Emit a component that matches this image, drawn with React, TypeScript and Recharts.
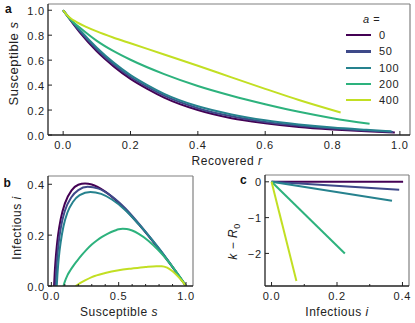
import { LineChart, Line, XAxis, YAxis, ReferenceLine, Legend, Label } from 'recharts';

const FONT = '"Liberation Sans", Arial, Helvetica, sans-serif';

const alphas = ['0', '50', '100', '200', '400'];
const colors = ['#440154', '#3e4989', '#26828e', '#2db27d', '#c2df23'];

// panel a: susceptible s against recovered r
const rA0 = [0, 0.05, 0.1, 0.15, 0.2, 0.25, 0.3, 0.4, 0.5, 0.6, 0.7, 0.8, 0.9, 0.985];
const sA0 = [1, 0.82, 0.67, 0.55, 0.45, 0.37, 0.3, 0.2, 0.135, 0.095, 0.065, 0.045, 0.03, 0.02];
const rA50 = [0, 0.05, 0.1, 0.15, 0.2, 0.25, 0.3, 0.4, 0.5, 0.6, 0.7, 0.8, 0.9, 0.98];
const sA50 = [1, 0.83, 0.685, 0.565, 0.465, 0.385, 0.315, 0.215, 0.15, 0.105, 0.075, 0.052, 0.036, 0.025];
const rA100 = [0, 0.05, 0.1, 0.15, 0.2, 0.25, 0.3, 0.4, 0.5, 0.6, 0.7, 0.8, 0.9, 0.975];
const sA100 = [1, 0.84, 0.7, 0.58, 0.48, 0.4, 0.33, 0.23, 0.165, 0.118, 0.085, 0.06, 0.042, 0.03];
const rA200 = [0, 0.01, 0.02, 0.05, 0.1, 0.15, 0.2, 0.3, 0.4, 0.5, 0.6, 0.7, 0.8, 0.91];
const sA200 = [1, 0.962, 0.93, 0.86, 0.755, 0.672, 0.603, 0.488, 0.393, 0.315, 0.247, 0.186, 0.135, 0.09];
const rA400 = [0, 0.01, 0.02, 0.04, 0.07, 0.1, 0.15, 0.2, 0.3, 0.4, 0.5, 0.6, 0.7, 0.824];
const sA400 = [1, 0.965, 0.94, 0.905, 0.865, 0.83, 0.78, 0.735, 0.645, 0.555, 0.462, 0.37, 0.28, 0.18];

// panel b: infectious i against susceptible s
const sB0 = [0.02, 0.025, 0.03, 0.04, 0.05, 0.07, 0.1, 0.15, 0.2, 0.25, 0.3, 0.4, 0.5, 0.6, 0.7, 0.8, 0.9, 0.95, 1.0];
const iB0 = [0, 0.053, 0.093, 0.155, 0.201, 0.265, 0.324, 0.376, 0.398, 0.403, 0.399, 0.371, 0.327, 0.272, 0.211, 0.144, 0.074, 0.037, 0];
const sB50 = [0.03, 0.035, 0.04, 0.05, 0.06, 0.08, 0.1, 0.15, 0.2, 0.27, 0.35, 0.45, 0.55, 0.65, 0.75, 0.85, 0.95, 1.0];
const iB50 = [0, 0.05, 0.09, 0.15, 0.195, 0.255, 0.295, 0.35, 0.377, 0.39, 0.383, 0.352, 0.305, 0.245, 0.18, 0.112, 0.038, 0];
const sB100 = [0.04, 0.045, 0.05, 0.06, 0.07, 0.09, 0.12, 0.16, 0.21, 0.29, 0.37, 0.45, 0.55, 0.65, 0.75, 0.85, 0.95, 1.0];
const iB100 = [0, 0.045, 0.08, 0.135, 0.175, 0.235, 0.29, 0.33, 0.357, 0.37, 0.362, 0.34, 0.298, 0.242, 0.18, 0.112, 0.038, 0];
const sB200 = [0.09, 0.1, 0.12, 0.14, 0.163, 0.19, 0.225, 0.26, 0.3, 0.34, 0.373, 0.42, 0.473, 0.5, 0.53, 0.56, 0.6, 0.646, 0.72, 0.794, 0.86, 0.918, 0.96, 1.0];
const iB200 = [0, 0.017, 0.043, 0.061, 0.079, 0.098, 0.121, 0.142, 0.163, 0.18, 0.192, 0.206, 0.218, 0.223, 0.225, 0.224, 0.218, 0.206, 0.178, 0.141, 0.102, 0.063, 0.032, 0];
const sB400 = [0.18, 0.2, 0.25, 0.3, 0.4, 0.5, 0.6, 0.7, 0.78, 0.82, 0.86, 0.9, 0.94, 0.97, 1.0];
const iB400 = [0, 0.007, 0.022, 0.035, 0.051, 0.062, 0.069, 0.075, 0.078, 0.078, 0.072, 0.058, 0.038, 0.02, 0];

// panel c: k - R0 against infectious i
const iC0 = [0, 0.402];
const kC0 = [0, 0];
const iC50 = [0, 0.39];
const kC50 = [0, -0.22];
const iC100 = [0, 0.368];
const kC100 = [0, -0.53];
const iC200 = [0, 0.224];
const kC200 = [0, -2.0];
const iC400 = [0, 0.076];
const kC400 = [0, -2.77];

const zip = (xs: number[], ys: number[]) => xs.map((x, i) => ({ x, y: ys[i] }));

const panelA = [zip(rA0, sA0), zip(rA50, sA50), zip(rA100, sA100), zip(rA200, sA200), zip(rA400, sA400)];
const panelB = [zip(sB0, iB0), zip(sB50, iB50), zip(sB100, iB100), zip(sB200, iB200), zip(sB400, iB400)];
const panelC = [zip(iC0, kC0), zip(iC50, kC50), zip(iC100, kC100), zip(iC200, kC200), zip(iC400, kC400)];

const tickText = { fontFamily: FONT, fontSize: 11, letterSpacing: 0.8, fill: '#222' };
const labelText = { fontFamily: FONT, fontSize: 12, letterSpacing: 0.5, fill: '#222' };

const isIn = (list: number[], v: number) => list.some((m) => Math.abs(m - v) < 1e-9);

const bottomTick = (major: number[], fmt: (v: number) => string) => (props: any) => {
  const { x, y, payload } = props;
  const big = isIn(major, payload.value);
  return (
    <g>
      <line x1={x} x2={x} y1={y} y2={y - (big ? 4 : 2)} stroke="#222" strokeWidth={1} />
      {big && (
        <text x={x} y={y + 14} textAnchor="middle" style={tickText}>
          {fmt(payload.value)}
        </text>
      )}
    </g>
  );
};

const leftTick = (fmt: (v: number) => string) => (props: any) => {
  const { x, y, payload } = props;
  return (
    <g>
      <line x1={x} x2={x + 4} y1={y} y2={y} stroke="#222" strokeWidth={1} />
      <text x={x - 3} y={y + 4.5} textAnchor="end" style={tickText}>
        {fmt(payload.value)}
      </text>
    </g>
  );
};

const fixed1 = (v: number) => v.toFixed(1);
const minusInt = (v: number) => (v < 0 ? '\u2212' + Math.abs(v) : String(v));

const LegendBox = () => (
  <div style={{ fontFamily: FONT, fontSize: 11, letterSpacing: 0.6, color: '#222' }}>
    <div style={{ height: 16, lineHeight: '16px', paddingLeft: 17 }}>
      <i>a</i> =
    </div>
    {alphas.map((a, i) => (
      <div key={a} style={{ display: 'flex', alignItems: 'center', height: 16.3 }}>
        <span style={{ width: 25, height: 2.2, background: colors[i], display: 'inline-block' }} />
        <span style={{ marginLeft: 8 }}>{a}</span>
      </div>
    ))}
  </div>
);

const axisLine = { stroke: '#222', strokeWidth: 1.3 };
const frame = '#808080';

const letter = (ch: string, left: number, top: number) => (
  <span
    style={{
      position: 'absolute',
      left,
      top,
      fontFamily: FONT,
      fontWeight: 'bold',
      fontSize: 12,
      lineHeight: '12px',
      color: '#111',
    }}
  >
    {ch}
  </span>
);

export default function App() {
  return (
    <div style={{ position: 'absolute', left: 0, top: 0, width: 415, height: 323, background: '#fff' }}>
      {/* a */}
      <div style={{ position: 'absolute', left: 0, top: 0 }}>
        <LineChart width={415} height={172} margin={{ top: 4, right: 5, left: 0, bottom: 0 }}>
          <XAxis
            type="number"
            dataKey="x"
            domain={[-0.045, 1.03]}
            allowDataOverflow
            ticks={[0, 0.2, 0.4, 0.6, 0.8, 1.0]}
            interval={0}
            tickLine={false}
            tickSize={0}
            tickMargin={0}
            height={37}
            axisLine={axisLine}
            tick={bottomTick([0, 0.2, 0.4, 0.6, 0.8, 1.0], fixed1)}
          >
            <Label
              content={() => (
                <text x={227} y={165} textAnchor="middle" style={labelText}>
                  Recovered <tspan fontStyle="italic">r</tspan>
                </text>
              )}
            />
          </XAxis>
          <YAxis
            type="number"
            dataKey="y"
            domain={[0, 1.05]}
            allowDataOverflow
            ticks={[0, 0.2, 0.4, 0.6, 0.8, 1.0]}
            interval={0}
            tickLine={false}
            tickSize={0}
            tickMargin={0}
            width={48}
            axisLine={axisLine}
            tick={leftTick(fixed1)}
          >
            <Label
              content={() => (
                <text x={18} y={63.5} textAnchor="middle" transform="rotate(-90 18 63.5)" style={{ ...labelText, fontSize: 13 }}>
                  Susceptible <tspan fontStyle="italic">s</tspan>
                </text>
              )}
            />
          </YAxis>
          <ReferenceLine y={1.05} stroke={frame} strokeWidth={1.2} />
          <ReferenceLine x={1.03} stroke={frame} strokeWidth={1.2} />
          {panelA.map((d, i) => (
            <Line
              key={alphas[i]}
              data={d}
              dataKey="y"
              type="monotone"
              stroke={colors[i]}
              strokeWidth={2}
              dot={false}
              isAnimationActive={false}
            />
          ))}
          <Legend
            layout="vertical"
            align="center"
            verticalAlign="middle"
            content={LegendBox}
            wrapperStyle={{ left: 346, top: 11, width: 62 }}
          />
        </LineChart>
      </div>

      {/* b */}
      <div style={{ position: 'absolute', left: 0, top: 170 }}>
        <LineChart width={200} height={153} margin={{ top: 6, right: 7, left: 0, bottom: 0 }}>
          <XAxis
            type="number"
            dataKey="x"
            domain={[-0.025, 1.052]}
            allowDataOverflow
            ticks={[0, 0.1, 0.2, 0.3, 0.4, 0.5, 0.6, 0.7, 0.8, 0.9, 1.0]}
            interval={0}
            tickLine={false}
            tickSize={0}
            tickMargin={0}
            height={37}
            axisLine={axisLine}
            tick={bottomTick([0, 0.5, 1.0], fixed1)}
          >
            <Label
              content={() => (
                <text x={119} y={145.5} textAnchor="middle" style={labelText}>
                  Susceptible <tspan fontStyle="italic">s</tspan>
                </text>
              )}
            />
          </XAxis>
          <YAxis
            type="number"
            dataKey="y"
            domain={[0, 0.4325]}
            allowDataOverflow
            ticks={[0, 0.2, 0.4]}
            interval={0}
            tickLine={false}
            tickSize={0}
            tickMargin={0}
            width={48}
            axisLine={axisLine}
            tick={leftTick(fixed1)}
          >
            <Label
              content={() => (
                <text x={21} y={58} textAnchor="middle" transform="rotate(-90 21 58)" style={labelText}>
                  Infectious <tspan fontStyle="italic">i</tspan>
                </text>
              )}
            />
          </YAxis>
          <ReferenceLine y={0.4325} stroke={frame} strokeWidth={1.2} />
          <ReferenceLine x={1.052} stroke={frame} strokeWidth={1.2} />
          {panelB.map((d, i) => (
            <Line
              key={alphas[i]}
              data={d}
              dataKey="y"
              type="monotone"
              stroke={colors[i]}
              strokeWidth={2}
              dot={false}
              isAnimationActive={false}
            />
          ))}
        </LineChart>
      </div>

      {/* c */}
      <div style={{ position: 'absolute', left: 215, top: 170 }}>
        <LineChart width={200} height={153} margin={{ top: 5, right: 6, left: 0, bottom: 0 }}>
          <XAxis
            type="number"
            dataKey="x"
            domain={[-0.02, 0.42]}
            allowDataOverflow
            ticks={[0, 0.1, 0.2, 0.3, 0.4]}
            interval={0}
            tickLine={false}
            tickSize={0}
            tickMargin={0}
            height={37}
            axisLine={axisLine}
            tick={bottomTick([0, 0.2, 0.4], fixed1)}
          >
            <Label
              content={() => (
                <text x={122} y={146} textAnchor="middle" style={labelText}>
                  Infectious <tspan fontStyle="italic">i</tspan>
                </text>
              )}
            />
          </XAxis>
          <YAxis
            type="number"
            dataKey="y"
            domain={[-2.91, 0.19]}
            allowDataOverflow
            ticks={[-2, -1, 0]}
            interval={0}
            tickLine={false}
            tickSize={0}
            tickMargin={0}
            width={50}
            axisLine={axisLine}
            tick={leftTick(minusInt)}
          >
            <Label
              content={() => (
                <text x={22} y={71.5} textAnchor="middle" transform="rotate(-90 22 71.5)" style={labelText}>
                  <tspan fontStyle="italic">k</tspan> {'\u2212'} <tspan fontStyle="italic">R</tspan>
                  <tspan fontSize={9} dy={3}>0</tspan>
                </text>
              )}
            />
          </YAxis>
          <ReferenceLine y={0.19} stroke={frame} strokeWidth={1.2} />
          <ReferenceLine x={0.42} stroke={frame} strokeWidth={1.2} />
          {panelC.map((d, i) => (
            <Line
              key={alphas[i]}
              data={d}
              dataKey="y"
              type="linear"
              stroke={colors[i]}
              strokeWidth={2}
              dot={false}
              isAnimationActive={false}
            />
          ))}
        </LineChart>
      </div>

      {letter('a', 5, 3)}
      {letter('b', 3.5, 177)}
      {letter('c', 240, 174)}
    </div>
  );
}
